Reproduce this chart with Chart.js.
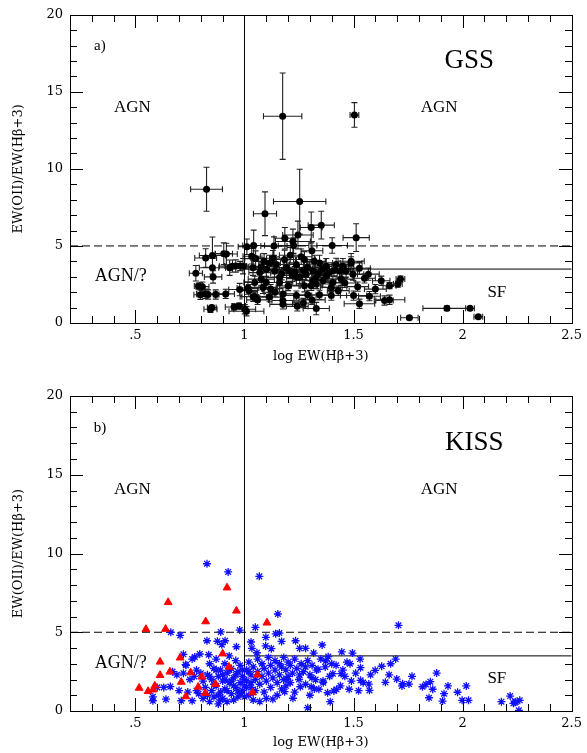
<!DOCTYPE html>
<html>
<head>
<meta charset="utf-8">
<script src="https://cdn.jsdelivr.net/npm/chart.js@4.4.0/dist/chart.umd.min.js"></script>
<style>
  html, body { margin: 0; padding: 0; background: #fff; }
  #wrap { position: relative; width: 587px; height: 753px; }
  canvas { position: absolute; left: 0; }
</style>
</head>
<body>
<div id="wrap">
  <canvas id="gss" width="587" height="376" style="top:0px"></canvas>
  <canvas id="kiss" width="587" height="377" style="top:376px"></canvas>
</div>
<script>
// axes
var xMin = 0.2, xMax = 2.5, yMin = 0, yMax = 20;
var xTicks = [0.5, 1, 1.5, 2, 2.5];
var xTickLabels = ['.5', '1', '1.5', '2', '2.5'];
var yTicks = [0, 5, 10, 15, 20];
var yTickLabels = ['0', '5', '10', '15', '20'];
// minor tick spacing
var xMinorStep = 0.1, yMinorStep = 1;

// region boundaries
var agnLimitX = 1;
var agnLimitY = 5;
var sfLimitY = 3.5;

// a) GSS galaxies with error bars
var gssX = [
  0.826,1.175,1.504,1.094,1.253,1.352,1.306,1.512,1.185,1.222,
  1.245,1.011,1.042,1.135,1.225,1.402,1.309,0.917,0.853,0.822,
  1.033,1.051,0.777,0.853,0.856,0.932,0.945,0.993,1.077,1.115,
  1.146,1.184,1.207,1.238,1.275,1.344,1.375,1.42,1.451,1.489,
  1.527,1.568,1.497,1.161,1.238,1.314,1.359,1.405,1.443,1.519,
  1.573,1.5,1.398,1.344,1.29,1.238,1.176,1.176,1.176,1.242,
  1.329,1.527,1.115,1.048,1.016,1.047,1.077,0.978,0.914,0.868,
  0.833,0.798,0.807,0.844,0.952,1.001,1.009,1.1,1.085,1.161,
  1.138,1.1,1.07,1.039,1.192,1.23,1.253,1.283,1.314,1.329,
  1.39,1.436,1.466,1.398,1.275,1.306,1.329,1.375,1.489,1.627,
  1.665,1.703,1.715,1.665,1.642,1.756,1.928,2.034,2.072,1.6,
  0.79,0.82,0.85,0.905,0.96,0.975,0.98,1.02,1.04,1.06,
  1.12,1.14,1.2,1.21,1.26,1.29,1.32,1.36,1.41,1.43,
  1.46,1.55,1.31,1.27,1.22,1.17,1.13,1.09,1.27,1.34];
var gssY = [
  8.68,13.42,13.5,7.09,7.88,6.35,6.2,5.54,5.5,5.29,
  5.71,4.95,5.03,4.99,5.03,5.03,4.69,4.48,4.38,4.22,
  4.33,4.18,3.23,3.59,2.99,3.59,3.69,3.69,3.63,3.9,
  3.8,4.12,3.38,3.8,4.12,3.9,3.69,3.8,3.69,4.01,
  3.55,3.17,3.17,2.95,2.95,2.74,2.74,2.63,2.85,2.36,
  1.74,1.78,1.78,1.83,1.83,1.78,1.89,1.46,1.21,1.08,
  0.94,1.25,1.68,1.72,2.27,2.63,2.85,2.17,1.89,1.85,
  1.85,1.83,2.36,0.89,1.04,0.89,0.76,2.63,2.31,2.63,
  3.38,3.48,3.27,3.59,3.59,3.27,2.95,3.17,3.38,2.95,
  3.27,3.38,3.38,2.31,2.42,2.42,2.53,3.06,3.9,2.74,
  2.42,2.53,2.85,1.51,1.46,0.34,0.95,0.95,0.4,2.2,
  2.4,1.9,1.0,4.5,3.7,1.1,3.7,2.1,1.7,1.5,
  2.2,2.0,2.4,4.4,4.3,3.6,4.0,3.5,3.4,2.1,
  2.6,2.9,1.5,1.3,3.1,3.2,4.2,4.0,3.4,3.2];
var gssXErr = [
  0.073,0.088,0.02,0.053,0.12,0.06,0.05,0.06,0.05,0.08,
  0.07,0.04,0.05,0.06,0.07,0.07,0.05,0.05,0.06,0.05,
  0.04,0.05,0.03,0.06,0.04,0.05,0.06,0.04,0.06,0.05,
  0.06,0.05,0.07,0.06,0.05,0.06,0.05,0.06,0.05,0.06,
  0.05,0.05,0.05,0.06,0.07,0.05,0.06,0.05,0.06,0.05,
  0.05,0.06,0.07,0.06,0.05,0.07,0.06,0.05,0.06,0.05,
  0.06,0.07,0.05,0.06,0.05,0.05,0.06,0.05,0.04,0.04,
  0.05,0.03,0.03,0.03,0.04,0.05,0.08,0.05,0.06,0.06,
  0.05,0.06,0.05,0.04,0.06,0.05,0.06,0.05,0.06,0.05,
  0.06,0.05,0.06,0.05,0.06,0.05,0.06,0.05,0.05,0.04,
  0.03,0.02,0.02,0.07,0.04,0.04,0.11,0.02,0.02,0.05,
  0.02,0.04,0.02,0.04,0.05,0.03,0.03,0.04,0.06,0.05,
  0.04,0.05,0.05,0.05,0.05,0.06,0.05,0.05,0.06,0.05,
  0.05,0.05,0.06,0.05,0.05,0.05,0.05,0.05,0.05,0.05];
var gssYErr = [
  1.43,2.8,0.8,1.42,2.1,0.9,1.0,0.9,0.7,0.8,
  0.9,0.5,1.0,0.6,0.5,0.5,0.6,0.7,1.2,0.6,
  0.5,0.5,0.5,0.6,0.4,0.5,0.4,0.5,0.6,0.5,
  0.5,0.6,0.5,0.5,0.5,0.5,0.5,0.4,0.5,0.5,
  0.4,0.4,0.4,0.5,0.5,0.5,0.4,0.4,0.4,0.3,
  0.3,0.3,0.3,0.3,0.3,0.3,0.4,0.3,0.3,0.3,
  0.4,0.3,0.3,0.3,0.4,0.4,0.4,0.4,0.3,0.3,
  0.3,0.3,0.3,0.2,0.2,0.3,0.3,0.4,0.4,0.4,
  0.4,0.5,0.4,0.5,0.5,0.4,0.4,0.4,0.4,0.4,
  0.4,0.4,0.4,0.3,0.4,0.3,0.3,0.4,0.4,0.3,
  0.2,0.2,0.2,0.3,0.3,0.1,0.15,0.1,0.1,0.3,
  0.2,0.3,0.15,0.7,0.4,0.2,0.3,0.4,0.3,0.3,
  0.3,0.3,0.3,0.5,0.5,0.4,0.4,0.4,0.4,0.3,
  0.3,0.3,0.3,0.3,0.4,0.4,0.5,0.5,0.4,0.4];

// b) KISS galaxies (blue stars)
var kissX = [
  0.828,0.925,1.068,1.153,1.706,1.05,1.143,1.16,0.891,0.978,
  0.662,0.705,1.098,1.03,1.034,1.097,1.17,1.234,1.28,1.356,
  1.317,1.446,1.495,1.123,1.057,0.963,0.911,0.876,0.828,0.896,
  0.795,0.836,0.772,0.732,1.253,1.384,1.373,1.484,1.532,1.578,
  1.599,1.629,1.67,1.693,1.663,1.698,1.725,1.722,1.768,1.754,
  1.646,1.532,1.544,1.57,1.573,1.523,1.48,1.422,1.41,1.381,
  1.393,1.341,1.326,1.361,1.29,1.222,1.256,1.306,1.253,1.309,
  1.337,1.405,1.451,1.443,1.196,1.184,1.816,1.832,1.852,1.863,
  1.881,1.846,1.915,1.933,1.908,1.977,2.017,1.998,2.027,2.178,
  2.218,2.233,2.244,2.262,2.258,2.24,0.58,0.58,0.6,0.63,
  0.64,0.66,0.67,0.69,0.7,0.71,
  0.72,0.72,0.73,0.74,0.75,0.76,0.76,0.77,0.78,0.78,
  0.79,0.8,0.81,0.81,0.82,0.83,0.83,0.84,0.84,0.85,
  0.85,0.86,0.86,0.87,0.87,0.88,0.88,0.89,0.89,0.9,
  0.9,0.91,0.91,0.92,0.92,0.93,0.93,0.94,0.94,0.95,
  0.95,0.96,0.96,0.97,0.97,0.98,0.98,0.99,0.99,1.0,
  1.0,1.01,1.01,1.02,1.02,1.03,1.03,1.04,1.04,1.05,
  1.05,1.06,1.06,1.07,1.07,1.08,1.08,1.09,1.09,1.1,
  1.1,1.11,1.11,1.12,1.12,1.13,1.13,1.14,1.14,1.15,
  1.15,1.16,1.16,1.17,1.17,1.18,1.18,1.19,1.19,1.2,
  1.2,1.21,1.21,1.22,1.23,1.23,1.24,1.25,1.26,1.27,
  1.28,1.28,1.29,1.3,1.3,1.31,1.32,1.33,1.35,1.36,
  1.37,1.39,1.4,1.42,1.44,1.46,1.47,1.49,1.51,1.53,
  0.86,0.88,0.9,0.92,0.94,0.96,0.98,1.0,1.02,1.04,
  0.84,0.87,0.89,0.91,0.93,0.95,0.97,0.99,1.01,1.03];
var kissY = [
  9.35,8.83,8.55,6.16,5.44,5.31,4.9,4.95,5.02,5.14,
  5.0,4.8,4.68,4.38,3.98,4.13,4.42,4.46,3.98,4.19,
  3.68,3.75,3.68,3.96,3.7,4.08,4.46,4.43,4.46,4.21,
  3.62,3.57,3.43,2.9,3.98,3.45,3.19,3.0,2.75,2.3,
  2.58,2.84,3.0,3.3,2.3,2.03,1.73,1.59,2.2,1.71,
  1.82,1.95,1.8,1.71,1.31,1.29,1.38,1.38,1.27,1.16,
  0.59,1.38,1.99,1.8,0.21,0.81,1.54,1.54,2.29,2.11,
  2.65,2.37,2.6,2.37,2.01,1.23,1.54,1.69,1.86,1.38,
  2.41,0.84,1.1,1.59,0.63,1.19,1.59,0.68,0.68,0.59,
  0.95,0.49,0.59,0.68,0.04,0.55,0.9,0.65,1.5,1.5,
  0.75,1.55,2.5,2.3,1.3,0.65,
  2.4,3.6,2.95,1.2,2.0,0.65,3.3,2.2,1.3,2.6,
  1.1,2.4,0.8,1.9,1.5,2.3,1.0,3.0,0.6,1.3,
  2.0,2.7,0.9,1.6,3.3,0.45,2.2,1.2,2.6,1.9,
  0.8,3.0,1.4,2.4,0.6,1.8,3.5,1.1,2.7,2.1,
  0.7,1.5,3.2,2.5,0.9,1.8,2.9,1.3,2.2,0.9,
  2.0,2.6,1.5,3.1,1.0,2.3,1.8,2.8,0.7,2.0,
  1.3,3.3,2.5,1.7,0.6,2.2,3.0,1.2,2.7,1.9,
  0.8,2.4,3.4,1.5,2.9,2.1,0.75,2.6,3.2,1.8,
  1.0,2.3,3.0,2.8,1.4,3.4,2.0,1.6,2.6,3.1,
  2.2,1.8,2.9,2.4,3.3,1.2,2.7,2.0,3.0,2.5,
  2.8,1.7,3.2,2.3,1.0,2.9,1.4,2.6,3.3,1.9,
  2.8,2.2,3.0,2.9,1.6,2.2,3.1,1.9,2.4,3.3,
  1.7,1.0,2.3,1.3,1.9,2.3,1.1,1.6,2.5,1.2,
  2.2,2.6,0.7,2.0,2.6,1.6,1.3,2.6,1.9,1.5];

// b) KISS AGN (red triangles)
var agnX = [0.548,0.638,0.65,0.822,0.92,0.963,1.103,0.517,0.558,0.581,0.589,0.613,0.613,
            0.658,0.705,0.71,0.731,0.753,0.788,0.804,0.82,0.867,0.9,0.929,1.037,1.059];
var agnY = [5.19,5.2,6.9,5.68,7.83,6.36,5.6,1.46,1.25,1.35,1.6,3.12,2.27,
            2.49,3.38,1.84,0.92,2.44,1.53,2.17,1.13,1.71,3.64,2.8,1.17,2.3];

function pts(xs, ys) {
  var out = [];
  for (var i = 0; i < Math.min(xs.length, ys.length); i++) out.push({x: xs[i], y: ys[i]});
  return out;
}

Chart.defaults.font.family = '"DejaVu Serif", serif';
Chart.defaults.color = '#000';

// boundary lines of the diagram
function boundaryDatasets() {
  return [
    {type: 'line', data: [{x: agnLimitX, y: yMin}, {x: agnLimitX, y: yMax}],
     borderColor: '#000', borderWidth: 1, pointRadius: 0, order: 5},
    {type: 'line', data: [{x: xMin, y: agnLimitY}, {x: xMax, y: agnLimitY}],
     borderColor: '#000', borderWidth: 1, borderDash: [8, 4], pointRadius: 0, order: 5},
    {type: 'line', data: [{x: agnLimitX, y: sfLimitY}, {x: xMax, y: sfLimitY}],
     borderColor: '#000', borderWidth: 1, pointRadius: 0, order: 5}
  ];
}

// frame with inward ticks on all four sides
var frameTicks = {
  id: 'frameTicks',
  afterDraw: function(chart) {
    var ctx = chart.ctx, a = chart.chartArea, xs = chart.scales.x, ys = chart.scales.y;
    var L = Math.round(a.left), R = Math.round(a.right), T = Math.round(a.top), B = Math.round(a.bottom);
    ctx.save();
    ctx.fillStyle = '#000';
    ctx.fillRect(L, T, R - L + 1, 1);
    ctx.fillRect(L, B, R - L + 1, 1);
    ctx.fillRect(L, T, 1, B - T + 1);
    ctx.fillRect(R, T, 1, B - T + 1);
    var nx = Math.round((xMax - xMin) / xMinorStep);
    for (var k = 0; k <= nx; k++) {
      var v = xMin + k * xMinorStep;
      var px = Math.round(xs.getPixelForValue(v));
      var major = Math.abs(v / 0.5 - Math.round(v / 0.5)) < 1e-6;
      var len = major ? 13 : 7;
      ctx.fillRect(px, B - len, 1, len);
      ctx.fillRect(px, T, 1, len);
    }
    var ny = Math.round((yMax - yMin) / yMinorStep);
    for (var j = 0; j <= ny; j++) {
      var w = yMin + j * yMinorStep;
      var py = Math.round(ys.getPixelForValue(w));
      var len2 = (w % 5 === 0) ? 13 : 7;
      ctx.fillRect(L, py, len2, 1);
      ctx.fillRect(R - len2, py, len2, 1);
    }
    ctx.restore();
  }
};

// region names and panel labels
var regionText = {
  id: 'regionText',
  afterDraw: function(chart, args, opts) {
    var ctx = chart.ctx, xs = chart.scales.x, ys = chart.scales.y;
    ctx.save();
    ctx.fillStyle = '#000';
    ctx.textAlign = 'center';
    ctx.textBaseline = 'middle';
    (opts.items || []).forEach(function(t) {
      ctx.font = t.size + 'px "Liberation Serif"';
      ctx.fillText(t.text, xs.getPixelForValue(t.x), ys.getPixelForValue(t.y));
    });
    ctx.restore();
  }
};

// x and y error bars for the GSS sample
var errorBars = {
  id: 'errorBars',
  beforeDatasetsDraw: function(chart, args, opts) {
    if (!opts.x) return;
    var ctx = chart.ctx, xs = chart.scales.x, ys = chart.scales.y, cap = 3;
    ctx.save();
    ctx.strokeStyle = '#222';
    ctx.lineWidth = 1.1;
    ctx.beginPath();
    for (var i = 0; i < opts.x.length; i++) {
      var cx = xs.getPixelForValue(opts.x[i]), cy = ys.getPixelForValue(opts.y[i]);
      var x0 = xs.getPixelForValue(opts.x[i] - opts.xe[i]), x1 = xs.getPixelForValue(opts.x[i] + opts.xe[i]);
      var y0 = ys.getPixelForValue(opts.y[i] - opts.ye[i]), y1 = ys.getPixelForValue(opts.y[i] + opts.ye[i]);
      ctx.moveTo(x0, cy); ctx.lineTo(x1, cy);
      ctx.moveTo(x0, cy - cap); ctx.lineTo(x0, cy + cap);
      ctx.moveTo(x1, cy - cap); ctx.lineTo(x1, cy + cap);
      ctx.moveTo(cx, y0); ctx.lineTo(cx, y1);
      ctx.moveTo(cx - cap, y0); ctx.lineTo(cx + cap, y0);
      ctx.moveTo(cx - cap, y1); ctx.lineTo(cx + cap, y1);
    }
    ctx.stroke();
    ctx.restore();
  }
};

function panelOptions(cfg) {
  return {
    responsive: false,
    animation: false,
    events: [],
    layout: {padding: {top: cfg.padTop, right: 11, left: 0, bottom: 0}},
    plugins: {
      legend: {display: false},
      tooltip: {enabled: false},
      regionText: {items: cfg.labels},
      errorBars: cfg.errors || {}
    },
    scales: {
      x: {
        type: 'linear', min: xMin, max: xMax,
        grid: {display: false, drawTicks: false},
        border: {display: false},
        afterBuildTicks: function(s) { s.ticks = xTicks.map(function(v) { return {value: v}; }); },
        afterFit: function(s) { s.height = cfg.xAxisH; },
        ticks: {padding: 5, maxRotation: 0, autoSkip: false, font: {size: 13},
                callback: function(v, i) { return xTickLabels[i]; }},
        title: {display: true, text: 'log EW(H\u03b2+3)', font: {size: 13},
                padding: {top: 0, bottom: cfg.titlePad}}
      },
      y: {
        type: 'linear', min: yMin, max: yMax,
        grid: {display: false, drawTicks: false},
        border: {display: false},
        afterBuildTicks: function(s) { s.ticks = yTicks.map(function(v) { return {value: v}; }); },
        afterFit: function(s) { s.width = 70; },
        ticks: {padding: 7, font: {size: 13},
                callback: function(v, i) { return yTickLabels[i]; }},
        title: {display: true, text: 'EW(OII)/EW(H\u03b2+3)', font: {size: 13},
                padding: {top: 11, bottom: 0}}
      }
    }
  };
}

new Chart(document.getElementById('gss'), {
  type: 'scatter',
  data: {
    datasets: [
      {data: pts(gssX, gssY), pointStyle: 'circle', pointRadius: 3.5,
       backgroundColor: '#000', borderColor: '#000', borderWidth: 0, order: 1}
    ].concat(boundaryDatasets())
  },
  options: panelOptions({
    padTop: 9, xAxisH: 53, titlePad: 12,
    errors: {x: gssX, y: gssY, xe: gssXErr, ye: gssYErr},
    labels: [
      {text: 'a)', x: 0.337, y: 17.97, size: 15},
      {text: 'GSS', x: 2.03, y: 17.02, size: 27},
      {text: 'AGN', x: 0.486, y: 14.0, size: 17},
      {text: 'AGN', x: 1.892, y: 14.0, size: 17},
      {text: 'AGN/?', x: 0.433, y: 3.06, size: 18},
      {text: 'SF', x: 2.157, y: 1.97, size: 17}
    ]
  }),
  plugins: [errorBars, frameTicks, regionText]
});

new Chart(document.getElementById('kiss'), {
  type: 'scatter',
  data: {
    datasets: [
      {data: pts(agnX, agnY), pointStyle: 'triangle', pointRadius: 4.5,
       backgroundColor: '#ff0000', borderColor: '#ff0000', borderWidth: 1, order: 0},
      {data: pts(kissX, kissY), pointStyle: 'star', pointRadius: 4,
       backgroundColor: '#1010ff', borderColor: '#1010ff', borderWidth: 1.3, order: 1}
    ].concat(boundaryDatasets())
  },
  options: panelOptions({
    padTop: 20, xAxisH: 42, titlePad: 3,
    labels: [
      {text: 'b)', x: 0.337, y: 17.97, size: 15},
      {text: 'KISS', x: 2.053, y: 17.05, size: 27},
      {text: 'AGN', x: 0.486, y: 14.03, size: 17},
      {text: 'AGN', x: 1.892, y: 14.03, size: 17},
      {text: 'AGN/?', x: 0.433, y: 3.05, size: 18},
      {text: 'SF', x: 2.157, y: 2.03, size: 17}
    ]
  }),
  plugins: [frameTicks, regionText]
});
</script>
</body>
</html>
